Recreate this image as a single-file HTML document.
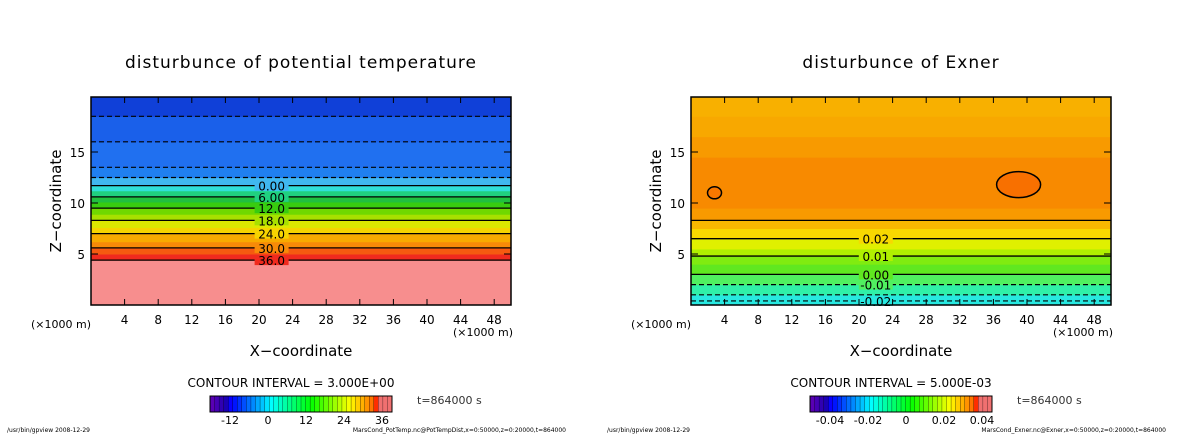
<!DOCTYPE html>
<html><head><meta charset="utf-8">
<style>
html,body{margin:0;padding:0;background:#fff;}
svg text{font-family:"DejaVu Sans","Liberation Sans",sans-serif;}
</style></head>
<body>
<svg id="fig" width="1200" height="434" xmlns="http://www.w3.org/2000/svg"></svg>
<script>
// Left panel: contour level heights (km) and band colours between them
const leftLevels = [0, 4.4, 5.0, 5.6, 6.2, 7.0, 7.6, 8.3, 8.9, 9.5, 10.1, 10.6, 11.2, 11.7, 12.5, 13.5, 16, 18.5, 20.4];
const leftColors = ["#f78e8e","#f02a1e","#f55a10","#f78a08","#f8aa00","#f6d400","#dce800","#a8e000","#70d800","#38cc10","#20c040","#20d080","#30e0d8","#40b8f0","#2080f0","#2070f0","#1a60ea","#1040d8"];
const leftLabels = [{v:"36.0",z:4.4},{v:"30.0",z:5.6},{v:"24.0",z:7.0},{v:"18.0",z:8.3},{v:"12.0",z:9.5},{v:"6.00",z:10.6},{v:"0.00",z:11.7}];
const leftSolid = [4.4, 5.6, 7.0, 8.3, 9.5, 10.6, 11.7];
const leftDashed = [12.5, 13.5, 16, 18.5];
// Right panel
const rightLevels = [0, 1.0, 2.0, 3.0, 4.0, 4.8, 5.5, 6.5, 7.5, 8.3, 9.5, 14.5, 16.5, 18.5, 20.4];
const rightColors = ["#28e8e0","#30f0a8","#50f060","#60e820","#80ec10","#b0f000","#e0f000","#f8d800","#f8b800","#f89a00","#f88a00","#f89a00","#f8a800","#f8b000"];
const rightLabels = [{v:"0.02",z:6.5},{v:"0.01",z:4.8},{v:"0.00",z:3.0},{v:"-0.01",z:2.0},{v:"-0.02",z:0.4}];
const rightSolid = [3.0, 4.8, 6.5, 8.3];
const rightDashed = [0.4, 1.0, 2.0];
const xTicks = [4,8,12,16,20,24,28,32,36,40,44,48];
const zTicks = [5,10,15];
const cbLeftTicks = ["-12","0","12","24","36"];
const cbRightTicks = ["-0.04","-0.02","0","0.02","0.04"];

const NS="http://www.w3.org/2000/svg";
const svg=document.getElementById('fig');
function mk(tag,attrs,parent){const e=document.createElementNS(NS,tag);for(const k in attrs)e.setAttribute(k,attrs[k]);(parent||svg).appendChild(e);return e;}
const Y0=305, KM=10.2;
function yS(z){return Y0-z*KM;}

function panel(ox,title,levels,colors,labels,solid,dashed,ci,cbTicks,fname,lx){
  const g=mk('g',{});
  
  
  const xS=x=>ox+x/50*420;
  for(let i=0;i<colors.length;i++){
    const r=mk('rect',{x:ox,y:yS(levels[i+1]),width:420,height:yS(levels[i])-yS(levels[i+1])+0.5,fill:colors[i]},g);
    
    
  }
  solid.forEach(z=>{
    const l=mk('line',{x1:ox,x2:ox+420,y1:yS(z),y2:yS(z),stroke:'#000','stroke-width':1.3},g);
    
    
  });
  dashed.forEach(z=>{
    const l=mk('line',{x1:ox,x2:ox+420,y1:yS(z),y2:yS(z),stroke:'#000','stroke-width':1.2,'stroke-dasharray':'5,3'},g);
    
    
  });
  labels.forEach(lb=>{
    let ci2=0; for(let i=0;i<levels.length-1;i++) if(lb.z>=levels[i]) ci2=i;
    mk('rect',{x:xS(lx)-17,y:yS(lb.z)-5,width:34,height:10,fill:colors[ci2]},g);
    const t=mk('text',{x:xS(lx),y:yS(lb.z)+5,'font-size':12,'text-anchor':'middle',fill:'#000'},g);
    t.textContent=lb.v;
    
    
  });
  const fr=mk('rect',{x:ox,y:97,width:420,height:208,fill:'none',stroke:'#000','stroke-width':1.5},g);
  
  
  xTicks.forEach(v=>{
    mk('line',{x1:xS(v),x2:xS(v),y1:305,y2:299,stroke:'#000'},g);
    mk('line',{x1:xS(v),x2:xS(v),y1:97,y2:103,stroke:'#000'},g);
    const t=mk('text',{x:xS(v),y:324,'font-size':12,'text-anchor':'middle'},g);
    t.textContent=v;
    
    
  });
  zTicks.forEach(v=>{
    mk('line',{x1:ox,x2:ox+7,y1:yS(v),y2:yS(v),stroke:'#000'},g);
    mk('line',{x1:ox+420,x2:ox+413,y1:yS(v),y2:yS(v),stroke:'#000'},g);
    const t=mk('text',{x:ox-6,y:yS(v)+5,'font-size':12,'text-anchor':'end'},g);
    t.textContent=v;
    
    
  });
  let t=mk('text',{x:ox+210,y:68,'font-size':17,'text-anchor':'middle','letter-spacing':'1'},g);
  t.textContent=title;  
  t=mk('text',{x:ox+210,y:356,'font-size':15,'text-anchor':'middle'},g);
  t.textContent='X−coordinate';  
  t=mk('text',{x:0,y:0,'font-size':15,'text-anchor':'middle',transform:`translate(${ox-30},201) rotate(-90)`},g);
  t.textContent='Z−coordinate';  
  t=mk('text',{x:ox-60,y:328,'font-size':11},g);
  t.textContent='(×1000 m)';  
  t=mk('text',{x:ox+362,y:336,'font-size':11},g);
  t.textContent='(×1000 m)';  
  t=mk('text',{x:ox+200,y:387,'font-size':12,'text-anchor':'middle'},g);
  t.textContent='CONTOUR INTERVAL = '+ci;  
  const cbx=ox+119, cbw=182, n=40;
  const cbg=mk('g',{},g);  
  for(let i=0;i<n;i++){
    const h=270*(1-i/(n-1))+ (i>n-5?-10:0);
    mk('rect',{x:cbx+i*cbw/n,y:396,width:cbw/n+0.3,height:16,fill:i>n-4?'#f07070':`hsl(${h},100%,${i<4?35:50}%)`,stroke:'#000','stroke-width':0.3},cbg);
  }
  mk('rect',{x:cbx,y:396,width:cbw,height:16,fill:'none',stroke:'#000'},cbg);
  cbTicks.forEach((v,i)=>{
    const tt=mk('text',{x:cbx+20+i*(cbw-30)/4,y:424,'font-size':11,'text-anchor':'middle'},cbg);
    tt.textContent=v;
    
    
  });
  t=mk('text',{x:ox+326,y:404,'font-size':11,fill:'#333'},g);
  t.textContent='t=864000 s';  
  t=mk('text',{x:ox-84,y:432,'font-size':6},g);
  t.textContent='/usr/bin/gpview   2008-12-29';  
  t=mk('text',{x:ox+475,y:432,'font-size':6,'text-anchor':'end'},g);
  t.textContent=fname;  
  return {g,xS};
}
const L=panel(91,'disturbunce of potential temperature',leftLevels,leftColors,leftLabels,leftSolid,leftDashed,'3.000E+00',cbLeftTicks,'MarsCond_PotTemp.nc@PotTempDist,x=0:50000,z=0:20000,t=864000',21.5);
const R=panel(691,'disturbunce of Exner',rightLevels,rightColors,rightLabels,rightSolid,rightDashed,'5.000E-03',cbRightTicks,'MarsCond_Exner.nc@Exner,x=0:50000,z=0:20000,t=864000',22);
const e1=mk('ellipse',{cx:R.xS(39),cy:yS(11.8),rx:22,ry:13,fill:'#f87000',stroke:'#000','stroke-width':1.5});


const e2=mk('ellipse',{cx:R.xS(2.8),cy:yS(11),rx:7,ry:6,fill:'#f87800',stroke:'#000','stroke-width':1.5});


</script>
</body></html>
